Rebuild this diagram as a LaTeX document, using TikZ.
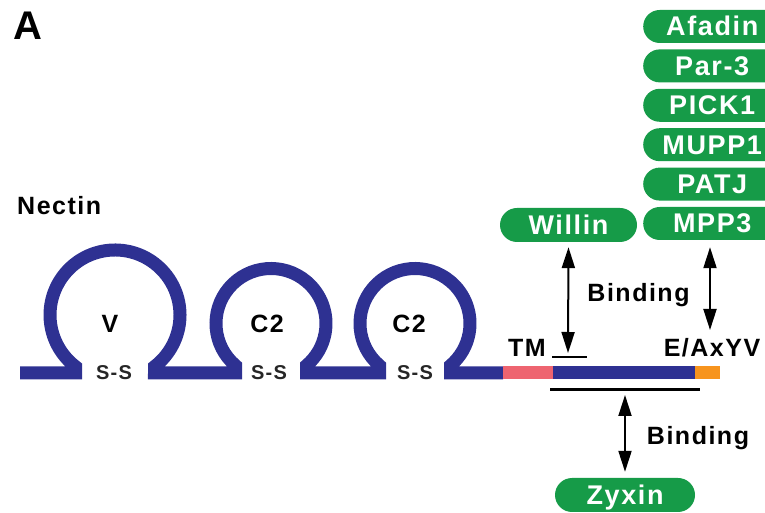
\documentclass[tikz,border=0pt]{standalone}
\usepackage{fontspec}
\setmainfont{Liberation Sans}
\newfontfamily\labfont[LetterSpace=6]{Liberation Sans}
\usetikzlibrary{arrows.meta,shapes.misc}
\definecolor{navy}{RGB}{46,49,146}
\definecolor{pgreen}{RGB}{22,155,72}
\definecolor{tmpink}{RGB}{238,100,112}
\definecolor{ctorange}{RGB}{247,148,29}
\begin{document}
\begin{tikzpicture}[x=1pt,y=1pt,
  lbl/.style={font=\labfont\bfseries\fontsize{25}{30}\selectfont, text=black, inner sep=0pt},
  small/.style={font=\labfont\bfseries\fontsize{20}{24}\selectfont, text=black!85, inner sep=0pt},
  pill/.style={rounded rectangle, fill=pgreen, text=white, inner sep=0pt,
    font=\labfont\bfseries\fontsize{27}{32}\selectfont, text height=19pt, text depth=0pt},
  pillR/.style={pill, rounded rectangle right arc=none, minimum width=135pt, minimum height=33pt, anchor=west},
  memb/.style={line width=13pt},
  bar/.style={line width=2.6pt, black},
  bind/.style={line width=2pt, black, {Triangle[length=21pt,width=13pt]}-{Triangle[length=21pt,width=13pt]}}
]
\useasboundingbox (0,0) rectangle (765,513);
\clip (0,0) rectangle (765,513);

% labels
\node[font=\bfseries\fontsize{40}{46}\selectfont, anchor=base, inner sep=0pt] (A) at (28,473) {A};
\node[lbl, anchor=base west] (nectin) at (17,298) {Nectin};

% membrane protein
\draw[navy, memb] (20,140) -- (75.5,140) -- (75.5,146.4)
  arc[start angle=232.56, end angle=-52.56, radius=65] -- (154.5,140)
  -- (235.5,140) -- (235.5,147.5)
  arc[start angle=229.8, end angle=-49.8, radius=55] -- (306.5,140)
  -- (379.5,140) -- (379.5,147.5)
  arc[start angle=229.8, end angle=-49.8, radius=55] -- (450.5,140)
  -- (503,140);
\draw[tmpink, memb] (503,140) -- (553,140);
\draw[navy, memb] (553,140) -- (695,140);
\draw[ctorange, memb] (695,140) -- (720,140);

\node[lbl, anchor=base] (V) at (110,180) {V};
\node[lbl, anchor=base] (C2a) at (267,180) {C2};
\node[lbl, anchor=base] (C2b) at (409,180) {C2};
\node[small, anchor=base] (ss1) at (114,133) {S-S};
\node[small, anchor=base] (ss2) at (269,133) {S-S};
\node[small, anchor=base] (ss3) at (415,133) {S-S};

\node[lbl, anchor=base] (TM) at (527,156) {TM};
\node[lbl, anchor=base] (EA) at (712,156) {E/AxYV};

% bars
\coordinate (tmL) at (552,156);
\coordinate (tmR) at (587,156);
\draw[bar] (tmL) -- (tmR);
\coordinate (lbL) at (550,123);
\coordinate (lbR) at (700,123);
\draw[bar, line width=3pt] (lbL) -- (lbR);

% pills
\node[pillR] (afadin) at (643,486.5) {Afadin};
\node[pillR] (par3) at (643,447.1) {Par-3};
\node[pillR] (pick1) at (643,407.7) {PICK1};
\node[pillR] (mupp1) at (643,368.3) {MUPP1};
\node[pillR] (patj) at (643,328.9) {PATJ};
\node[pillR] (mpp3) at (643,289.5) {MPP3};
\node[pill, minimum width=137pt, minimum height=34pt] (willin) at (568.5,288) {Willin};
\node[pill, minimum width=140pt, minimum height=34pt] (zyxin) at (625,18) {Zyxin};

% binding arrows
\coordinate (wEnd) at (568,160);
\coordinate (mEnd) at (710,183);
\coordinate (zTop) at (625,118);
\draw[bind, shorten <=5pt] (willin.south) -- (wEnd);
\draw[bind, shorten <=7pt] (mpp3.south -| mEnd) -- (mEnd);
\draw[bind, shorten >=6pt] (zTop) -- (zyxin.north);
\node[lbl, anchor=base] (b1) at (638.5,211) {Binding};
\node[lbl, anchor=base] (b2) at (698,68) {Binding};
\end{tikzpicture}
\end{document}
